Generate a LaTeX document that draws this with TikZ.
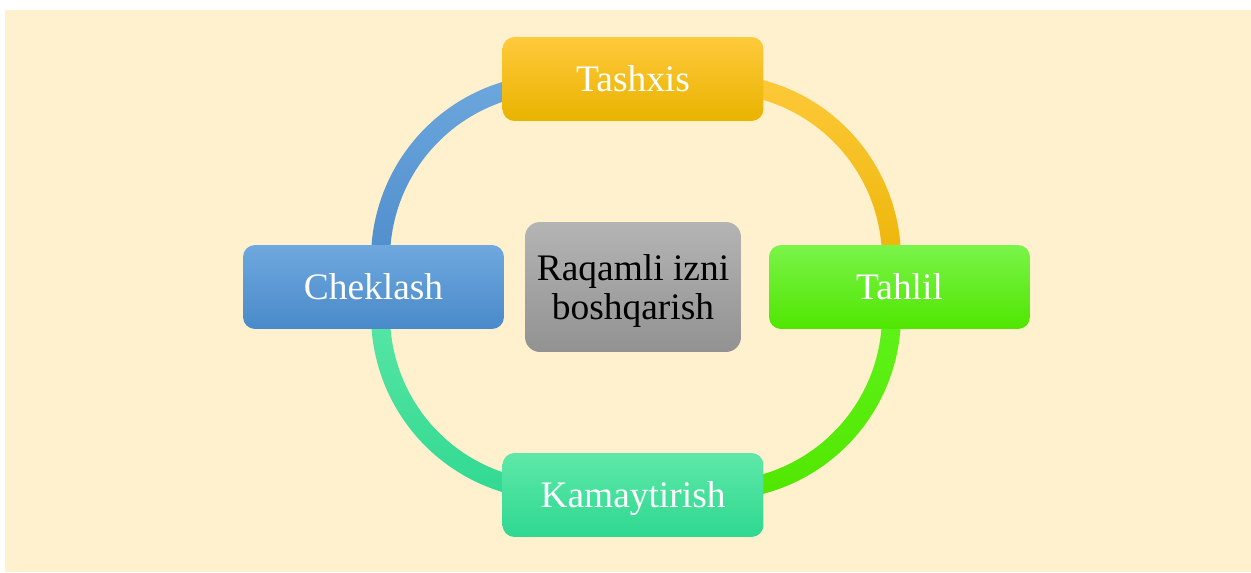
\documentclass[tikz,border=0pt]{standalone}
\usepackage{fontspec}
\setmainfont{Liberation Serif}
\usetikzlibrary{positioning}
\definecolor{bgcream}{HTML}{FFF1CE}
\definecolor{yelA}{HTML}{FFCA3C}
\definecolor{yelB}{HTML}{FFC700}
\definecolor{yelC}{HTML}{E9B300}
\definecolor{grnA}{HTML}{7AF44A}
\definecolor{grnB}{HTML}{62F41E}
\definecolor{grnC}{HTML}{50E600}
\definecolor{bluA}{HTML}{6EA8DE}
\definecolor{bluB}{HTML}{5C9CDC}
\definecolor{bluC}{HTML}{4A8ACA}
\definecolor{tqA}{HTML}{5EE8A8}
\definecolor{tqB}{HTML}{3CE89E}
\definecolor{tqC}{HTML}{2ED890}
\definecolor{gryA}{HTML}{B4B4B4}
\definecolor{gryC}{HTML}{929292}
\tikzset{
  stepbox/.style={rounded corners=0.24cm, minimum width=5.22cm, minimum height=1.68cm,
    inner sep=0pt, text depth=0pt, text=white, font=\fontsize{21.3}{22}\selectfont},
  hubbox/.style={rounded corners=0.3cm, minimum width=4.32cm, minimum height=2.6cm,
    inner sep=0pt, text depth=0pt, align=center, text=black, font=\fontsize{21.3}{22}\selectfont,
    top color=gryA, bottom color=gryC},
}
\begin{document}
\begin{tikzpicture}[x=0.02cm, y=0.02cm]
    \useasboundingbox (0,0) rectangle (1251,572);
    \fill[bgcream] (5,0) rectangle (1251,562);
    % ring center is (636,285); each quarter is its own arc
    \def\ro{185}
    \def\ri{166}
    % Tashxis -> Tahlil
    \begin{scope}[shift={(716,313)}]
      \shade[top color=yelA, bottom color=yelC]
        (100:\ro) arc[start angle=100, end angle=-10, radius=\ro]
        -- (-10:\ri) arc[start angle=-10, end angle=100, radius=\ri] -- cycle;
    \end{scope}
    % Tahlil -> Kamaytirish
    \begin{scope}[shift={(716,257)}]
      \shade[top color=grnB, bottom color=grnC]
        (10:\ro) arc[start angle=10, end angle=-100, radius=\ro]
        -- (-100:\ri) arc[start angle=-100, end angle=10, radius=\ri] -- cycle;
    \end{scope}
    % Kamaytirish -> Cheklash
    \begin{scope}[shift={(556,257)}]
      \shade[top color=tqA, bottom color=tqC]
        (-80:\ro) arc[start angle=-80, end angle=-190, radius=\ro]
        -- (-190:\ri) arc[start angle=-190, end angle=-80, radius=\ri] -- cycle;
    \end{scope}
    % Cheklash -> Tashxis
    \begin{scope}[shift={(556,313)}]
      \shade[top color=bluA, bottom color=bluC]
        (190:\ro) arc[start angle=190, end angle=80, radius=\ro]
        -- (80:\ri) arc[start angle=80, end angle=190, radius=\ri] -- cycle;
    \end{scope}
    % steps
    \node[stepbox, top color=yelA, middle color=yelB, bottom color=yelC] (tashxis) at (633,493) {Tashxis};
    \node[stepbox, top color=grnA, middle color=grnB, bottom color=grnC] (tahlil) at (899.5,285) {Tahlil};
    \node[stepbox, top color=tqA, middle color=tqB, bottom color=tqC] (kamaytirish) at (633,77) {Kamaytirish};
    \node[stepbox, top color=bluA, middle color=bluB, bottom color=bluC] (cheklash) at (373.5,285) {Cheklash};
    % hub
    \node[hubbox] (markaz) at (633,285) {Raqamli izni\\boshqarish};
\end{tikzpicture}
\end{document}
